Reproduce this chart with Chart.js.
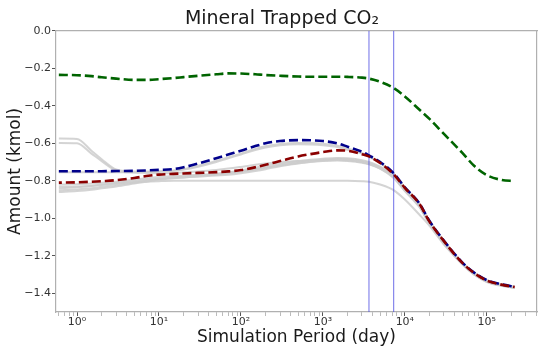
<!DOCTYPE html>
<html>
<head>
<meta charset="utf-8">
<script src="https://cdn.jsdelivr.net/npm/chart.js@4/dist/chart.umd.min.js"></script>
<style>
  html, body { margin: 0; padding: 0; background: #fff; }
  #wrap { width: 550px; height: 351px; }
</style>
</head>
<body>
<div id="wrap"><canvas id="chart" width="550" height="351"></canvas></div>
<script>
// simulation time (days)
const days = [0.6, 1, 1.5, 2, 3, 5, 7, 10, 15, 20, 30, 50, 70, 100, 150, 200, 300, 500, 700, 1000,
    1500, 2000, 3000, 3650, 5000, 7300, 10000, 15000, 20000, 30000, 50000, 70000, 100000, 150000, 219000];

const greenVals = [-0.235, -0.237, -0.242, -0.248, -0.255, -0.262, -0.262, -0.258, -0.252, -0.247, -0.24, -0.232, -0.227, -0.228, -0.232, -0.236, -0.24, -0.244, -0.245, -0.245,
    -0.245, -0.246, -0.25, -0.255, -0.272, -0.305, -0.35, -0.42, -0.47, -0.55, -0.65, -0.72, -0.77, -0.795, -0.802];
const blueVals = [-0.749, -0.749, -0.749, -0.749, -0.748, -0.747, -0.745, -0.742, -0.738, -0.728, -0.708, -0.68, -0.66, -0.64, -0.615, -0.6, -0.588, -0.583, -0.584, -0.588,
    -0.6, -0.618, -0.645, -0.665, -0.7, -0.76, -0.835, -0.92, -1.015, -1.12, -1.235, -1.29, -1.33, -1.352, -1.365];
const redVals = [-0.81, -0.808, -0.805, -0.802, -0.797, -0.785, -0.775, -0.767, -0.763, -0.761, -0.758, -0.754, -0.75, -0.743, -0.728, -0.715, -0.695, -0.67, -0.658, -0.647,
    -0.638, -0.64, -0.658, -0.67, -0.705, -0.765, -0.838, -0.922, -1.018, -1.122, -1.237, -1.292, -1.332, -1.354, -1.367];

// ensemble runs (gray)
const gray1 = [-0.575, -0.577, -0.64, -0.685, -0.74, -0.75, -0.752, -0.75, -0.746, -0.738, -0.72, -0.694, -0.675, -0.655, -0.63, -0.616, -0.604, -0.598, -0.598, -0.602,
    -0.613, -0.628, -0.652, -0.67, -0.703, -0.762, -0.836, -0.92, -1.015, -1.12, -1.235, -1.29, -1.33, -1.352, -1.365];
const gray2 = [-0.598, -0.6, -0.655, -0.695, -0.745, -0.756, -0.758, -0.76, -0.758, -0.755, -0.75, -0.742, -0.735, -0.726, -0.715, -0.708, -0.7, -0.695, -0.692, -0.69,
    -0.688, -0.69, -0.7, -0.71, -0.73, -0.775, -0.845, -0.93, -1.025, -1.13, -1.24, -1.295, -1.335, -1.355, -1.368];
const gray3 = [-0.84, -0.835, -0.828, -0.822, -0.815, -0.808, -0.805, -0.802, -0.8, -0.8, -0.8, -0.8, -0.8, -0.8, -0.8, -0.8, -0.8, -0.8, -0.8, -0.8,
    -0.8, -0.8, -0.802, -0.805, -0.82, -0.85, -0.9, -0.98, -1.04, -1.14, -1.24, -1.3, -1.335, -1.355, -1.365];
const gray4 = [-0.86, -0.855, -0.848, -0.84, -0.83, -0.815, -0.805, -0.795, -0.787, -0.782, -0.775, -0.768, -0.76, -0.752, -0.74, -0.73, -0.718, -0.705, -0.698, -0.692,
    -0.688, -0.69, -0.7, -0.71, -0.735, -0.785, -0.855, -0.94, -1.03, -1.135, -1.245, -1.3, -1.34, -1.36, -1.372];
const gray5 = [-0.82, -0.818, -0.815, -0.81, -0.805, -0.795, -0.787, -0.78, -0.775, -0.772, -0.768, -0.762, -0.755, -0.745, -0.73, -0.72, -0.706, -0.695, -0.688, -0.682,
    -0.678, -0.68, -0.69, -0.7, -0.725, -0.775, -0.848, -0.932, -1.025, -1.128, -1.24, -1.295, -1.336, -1.357, -1.37];
const gray6 = [-0.85, -0.846, -0.84, -0.832, -0.822, -0.81, -0.8, -0.79, -0.782, -0.778, -0.772, -0.765, -0.758, -0.75, -0.738, -0.728, -0.714, -0.7, -0.692, -0.686,
    -0.682, -0.684, -0.694, -0.704, -0.728, -0.778, -0.85, -0.935, -1.028, -1.132, -1.242, -1.298, -1.338, -1.358, -1.37];
const gray7 = [-0.832, -0.83, -0.826, -0.82, -0.812, -0.802, -0.795, -0.79, -0.785, -0.782, -0.778, -0.772, -0.768, -0.76, -0.748, -0.738, -0.722, -0.708, -0.7, -0.695,
    -0.692, -0.695, -0.704, -0.712, -0.735, -0.782, -0.852, -0.935, -1.028, -1.132, -1.242, -1.298, -1.338, -1.358, -1.37];
const gray8 = [-0.755, -0.755, -0.755, -0.755, -0.755, -0.754, -0.752, -0.75, -0.746, -0.74, -0.725, -0.7, -0.68, -0.66, -0.636, -0.622, -0.61, -0.605, -0.606, -0.61,
    -0.62, -0.635, -0.655, -0.672, -0.705, -0.764, -0.838, -0.922, -1.018, -1.122, -1.237, -1.292, -1.332, -1.354, -1.367];
const grayRuns = [gray1, gray2, gray3, gray4, gray5, gray6, gray7, gray8];

// vertical markers (days)
const markerDays = [3650, 7300];

const xMajor = [1, 10, 100, 1000, 10000, 100000];
const xMajorLabels = ['10⁰', '10¹', '10²', '10³', '10⁴', '10⁵'];
const yTicks = [0, -0.2, -0.4, -0.6, -0.8, -1.0, -1.2, -1.4];

function pts(vals) {
    return days.map((d, i) => ({ x: d, y: vals[i] }));
}

Chart.defaults.font.family = 'DejaVu Sans';
Chart.defaults.color = '#333';

let datasets = [
    { data: pts(redVals), borderColor: '#8b0000', borderWidth: 2.6, borderDash: [9, 4], borderDashOffset: 6, order: 0 },
    { data: pts(blueVals), borderColor: '#00008b', borderWidth: 2.6, borderDash: [9, 4], order: 1 },
    { data: pts(greenVals), borderColor: '#006400', borderWidth: 2.6, borderDash: [9, 4], order: 2 }
];
markerDays.forEach(d => {
    datasets.push({ data: [{ x: d, y: 0 }, { x: d, y: -1.5 }], borderColor: 'rgba(70,70,225,0.65)', borderWidth: 1.2, order: 3 });
});
grayRuns.forEach(g => {
    datasets.push({ data: pts(g), borderColor: 'rgba(205,205,205,0.85)', borderWidth: 2, order: 4 });
});

const isMajor = v => Math.abs(Math.log10(v) - Math.round(Math.log10(v))) < 1e-6;

let ctx = document.getElementById('chart').getContext('2d');
let myChart = new Chart(ctx, {
    type: 'line',
    data: { datasets: datasets },
    options: {
        responsive: false,
        animation: false,
        layout: { padding: { left: 14, right: 0, top: 0, bottom: 0 } },
        elements: {
            point: { radius: 0 },
            line: { fill: false, cubicInterpolationMode: 'monotone' }
        },
        plugins: {
            legend: { display: false },
            tooltip: { enabled: false },
            title: {
                display: true,
                text: 'Mineral Trapped CO₂',
                color: '#1a1a1a',
                font: { size: 19, weight: 'normal' },
                padding: { top: 8, bottom: 0 }
            }
        },
        scales: {
            x: {
                type: 'logarithmic',
                min: 0.554,
                max: 410000,
                afterBuildTicks: function(scale) {
                    let t = [];
                    for (let e = -1; e <= 5; e++) {
                        for (let m = 1; m <= 9; m++) {
                            let v = m * Math.pow(10, e);
                            if (v >= scale.min && v <= scale.max) t.push({ value: v, major: m === 1 });
                        }
                    }
                    scale.ticks = t;
                },
                afterFit: function(scale) { scale.height = 39; },
                ticks: {
                    autoSkip: false,
                    maxRotation: 0,
                    padding: 0,
                    font: { size: 11 },
                    callback: function(value) {
                        let i = xMajor.indexOf(value);
                        return i >= 0 ? xMajorLabels[i] : '';
                    }
                },
                grid: {
                    drawOnChartArea: false,
                    tickLength: 4,
                    color: c => (c.tick && isMajor(c.tick.value)) ? '#555' : '#bbb'
                },
                border: { color: '#b0b0b0', width: 1.2 },
                title: {
                    display: true,
                    text: 'Simulation Period (day)',
                    color: '#1a1a1a',
                    font: { size: 17 },
                    padding: { top: 0, bottom: 3 }
                }
            },
            xTop: {
                type: 'linear',
                position: 'top',
                min: 0,
                max: 1,
                afterFit: function(scale) { scale.height = 0; },
                ticks: { display: false },
                grid: { drawOnChartArea: false, drawTicks: false },
                border: { color: '#b0b0b0', width: 1.2 }
            },
            y: {
                min: -1.5,
                max: 0,
                afterBuildTicks: function(scale) {
                    scale.ticks = yTicks.map(v => ({ value: v }));
                },
                afterFit: function(scale) { scale.width = 42; },
                ticks: {
                    padding: 1,
                    font: { size: 11 },
                    callback: function(value) {
                        let s = Math.abs(value).toFixed(1);
                        return value < -1e-9 ? '\u2212' + s : s;
                    }
                },
                grid: { drawOnChartArea: false, tickLength: 4, color: '#555' },
                border: { color: '#b0b0b0', width: 1.2 },
                title: {
                    display: true,
                    text: 'Amount (kmol)',
                    color: '#1a1a1a',
                    font: { size: 17 },
                    padding: { top: -9, bottom: 0 }
                }
            },
            yRight: {
                type: 'linear',
                position: 'right',
                min: 0,
                max: 1,
                afterFit: function(scale) { scale.width = 13; },
                ticks: { display: false },
                grid: { drawOnChartArea: false, drawTicks: false },
                border: { color: '#b0b0b0', width: 1.2 }
            }
        }
    }
});
</script>
</body>
</html>
